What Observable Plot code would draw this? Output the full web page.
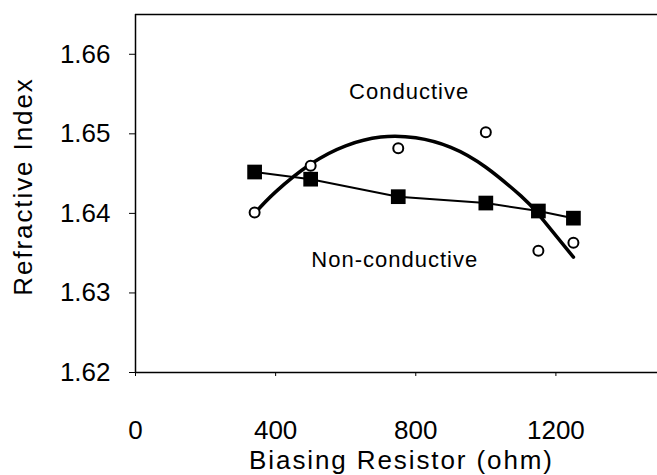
<!DOCTYPE html>
<html>
<head>
<meta charset="utf-8">
<script src="https://cdn.jsdelivr.net/npm/d3@7"></script>
<script src="https://cdn.jsdelivr.net/npm/@observablehq/plot@0.6"></script>
<style>
  html, body { margin: 0; padding: 0; background: #fff; overflow: hidden; }
  #chart svg { display: block; }
</style>
</head>
<body>
<div id="chart"></div>
<script>
// Non-conductive (filled squares, straight line)
const nonCondX = [340, 500, 750, 1000, 1150, 1250];
const nonCondY = [1.6452, 1.6443, 1.6421, 1.6413, 1.6403, 1.6394];
// Conductive (open circles)
const condX = [340, 500, 750, 1000, 1150, 1250];
const condY = [1.6401, 1.6460, 1.6482, 1.6502, 1.6353, 1.6363];
// Conductive trend curve
const curveX = [340, 400, 500, 600, 700, 800, 900, 1000, 1100, 1150, 1250];
const curveY = [1.6400, 1.6427, 1.6462, 1.6485, 1.6496, 1.6495, 1.6483, 1.6458, 1.6422, 1.6399, 1.6345];
// Ticks and labels
const xTicks = [0, 400, 800, 1200];
const yTicks = [1.62, 1.63, 1.64, 1.65, 1.66];
const xTitle = "Biasing Resistor (ohm)";
const yTitle = "Refractive Index";
const seriesLabels = ["Conductive", "Non-conductive"];
const labelX = [781, 740];
const labelY = [1.6553, 1.6341];

const nonCond = nonCondX.map((x, i) => ({x, y: nonCondY[i]}));
const cond = condX.map((x, i) => ({x, y: condY[i]}));
const curve = curveX.map((x, i) => ({x, y: curveY[i]}));
const labels = seriesLabels.map((t, i) => ({t, x: labelX[i], y: labelY[i]}));

const font = "'Liberation Sans', Arial, sans-serif";
const yMax = 1.665;

const chart = Plot.plot({
  width: 657,
  height: 475,
  marginLeft: 135,
  marginRight: 0,
  marginTop: 14,
  marginBottom: 103,
  style: {fontFamily: font, fontSize: "26px", color: "#000", background: "#fff"},
  x: {domain: [0, 1490]},
  y: {domain: [1.62, yMax]},
  marks: [
    Plot.axisX({ticks: xTicks, tickSize: 4, tickPadding: 44, label: null, fontSize: 26, tickFormat: d => String(d)}),
    Plot.axisY({ticks: yTicks, tickSize: 6, tickPadding: 19, label: null, fontSize: 26, tickFormat: d => d.toFixed(2)}),
    Plot.ruleX([0], {stroke: "#000", strokeWidth: 1.5}),
    Plot.ruleY([1.62], {stroke: "#000", strokeWidth: 1.5}),
    Plot.ruleY([yMax], {stroke: "#000", strokeWidth: 1.5}),
    Plot.line(curve, {x: "x", y: "y", curve: "natural", stroke: "#000", strokeWidth: 3.5}),
    Plot.line(nonCond, {x: "x", y: "y", stroke: "#000", strokeWidth: 2}),
    Plot.dot(nonCond, {x: "x", y: "y", symbol: "square", r: 8.3, fill: "#000", stroke: "none"}),
    Plot.dot(cond, {x: "x", y: "y", symbol: "circle", r: 5, fill: "#fff", stroke: "#000", strokeWidth: 2}),
    Plot.text(labels, {x: "x", y: "y", text: "t", fontSize: 22, fill: "#000"}),
    Plot.text([xTitle], {frameAnchor: "bottom", textAnchor: "middle", lineAnchor: "middle", dx: 5, dy: 88, fontSize: 26, fill: "#000"}),
    Plot.text([yTitle], {frameAnchor: "left", textAnchor: "middle", lineAnchor: "middle", rotate: -90, dx: -112, dy: -7, fontSize: 26, fill: "#000"})
  ]
});
// widen axis titles / labels slightly (reference font is wider than Arial)
chart.querySelectorAll("text").forEach(t => {
  const s = t.textContent;
  if (s === xTitle || s === yTitle) t.setAttribute("letter-spacing", "1.9");
  else if (seriesLabels.includes(s)) t.setAttribute("letter-spacing", "1");
});
document.getElementById("chart").appendChild(chart);
</script>
</body>
</html>
